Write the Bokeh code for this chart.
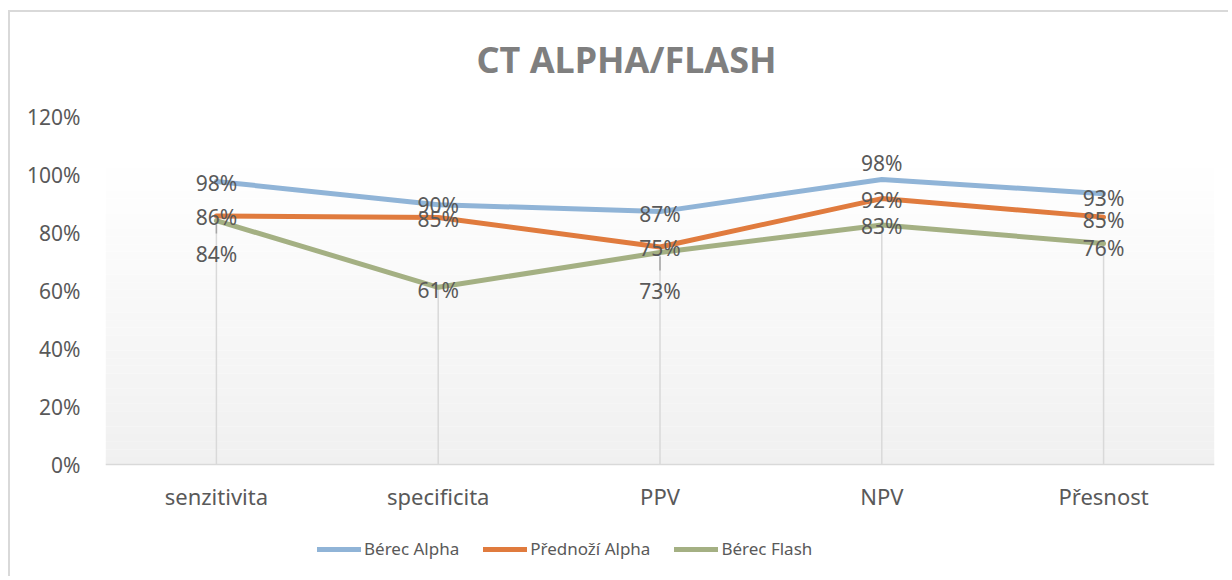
from bokeh.plotting import figure
from bokeh.models import FactorRange, Range1d, FixedTicker, Legend, LegendItem, Label
from bokeh.core.properties import value
from bokeh.embed import file_html
from bokeh.resources import INLINE

# ---- data ----
categories = ["senzitivita", "specificita", "PPV", "NPV", "Přesnost"]
series_names = ["Bérec Alpha", "Přednoží Alpha", "Bérec Flash"]
berec_alpha = [0.976, 0.896, 0.872, 0.983, 0.934]
prednozi_alpha = [0.857, 0.852, 0.750, 0.917, 0.853]
berec_flash = [0.841, 0.611, 0.731, 0.826, 0.762]
y_ticks = [0, 0.2, 0.4, 0.6, 0.8, 1.0, 1.2]
y_tick_labels = ["0%", "20%", "40%", "60%", "80%", "100%", "120%"]
title_text = "CT ALPHA/FLASH"

# ---- styles / layout ----
colors = ["#90B4D7", "#E07B3E", "#A4B083"]
label_dy = [[2, 0, 2, -16, 4], [1, 2, 1, 1, 3], [33, 3, 38, 1, 4]]  # px offsets of data labels
FONT = "Noto Sans"
TXT = "#595959"
PX_PER_UNIT = 290.0          # pixels per 100 %
CANVAS_TOP, CANVAS_H = 12, 566
ZERO_Y = 464                 # page y of the 0 % line
y_end = (ZERO_Y - CANVAS_TOP) / PX_PER_UNIT
y_start = -(CANVAS_TOP + CANVAS_H - ZERO_Y) / PX_PER_UNIT

series = [berec_alpha, prednozi_alpha, berec_flash]

p = figure(
    width=1220, height=CANVAS_H, title=None,
    x_range=FactorRange(*categories, range_padding=0),
    y_range=Range1d(y_start, y_end),
    output_backend="svg", toolbar_location=None,
    min_border_left=95, min_border_right=16, min_border_top=0, min_border_bottom=0,
)
p.styles = {"border-left": "2px solid #d9d9d9", "border-top": "2px solid #d9d9d9",
            "margin-top": "10px", "margin-left": "8px"}
p.outline_line_color = None
p.background_fill_color = "white"
p.border_fill_color = "white"
p.xgrid.grid_line_color = None
p.ygrid.grid_line_color = None

# gradient plot-area background (white at top to light gray at bottom)
n_bands = 40
g_top = 1.048
for i in range(n_bands):
    b = g_top * i / n_bands
    t = g_top * (i + 1) / n_bands
    frac = (i + 0.5) / n_bands
    c = int(round(240 + (255 - 240) * frac))
    p.quad(left=0, right=len(categories), bottom=b, top=t,
           fill_color=f"#{c:02x}{c:02x}{c:02x}", line_color=None)

# drop lines
mins = [min(v) for v in zip(*series)]
p.segment(x0=categories, y0=[0] * len(categories), x1=categories, y1=mins,
          line_color="#D9D9D9", line_width=1.5)

renderers = []
for vals, col in zip(series, colors):
    r = p.line(categories, vals, line_color=col, line_width=5, line_join="round", line_cap="round")
    renderers.append(r)

# leader lines for displaced labels
for vals, dys in zip(series, label_dy):
    for c, v, dy in zip(categories, vals, dys):
        if dy > 20:
            p.segment(x0=[c], y0=[v - 4 / PX_PER_UNIT], x1=[c], y1=[v - (dy - 20) / PX_PER_UNIT],
                      line_color="#A6A6A6", line_width=1.5)

# data labels
for vals, dys in zip(series, label_dy):
    p.text(x=categories, y=vals, text=[f"{round(v * 100)}%" for v in vals], y_offset=dys,
           text_align="center", text_baseline="middle", text_font=value(FONT),
           text_font_size="21px", text_color=TXT)

# axes
xa = p.xaxis[0]
xa.fixed_location = 0
xa.axis_line_color = "#D9D9D9"
xa.axis_line_width = 1.5
xa.major_tick_line_color = None
xa.minor_tick_line_color = None
xa.major_label_standoff = 10
xa.major_label_text_font = FONT
xa.major_label_text_font_size = "22px"
xa.major_label_text_color = TXT

ya = p.yaxis[0]
ya.axis_line_color = None
ya.major_tick_line_color = None
ya.minor_tick_line_color = None
ya.major_tick_out = 0
ya.major_tick_in = 0
ya.ticker = FixedTicker(ticks=y_ticks)
ya.major_label_overrides = {t: l for t, l in zip(y_ticks, y_tick_labels)}
ya.major_label_standoff = 25
ya.major_label_text_font = FONT
ya.major_label_text_font_size = "21px"
ya.major_label_text_color = TXT

# title
p.add_layout(Label(x=2.349, y=(ZERO_Y - 59) / PX_PER_UNIT, text=title_text, text_align="center",
                   text_baseline="middle", text_font=FONT, text_font_style="bold",
                   text_font_size="36px", text_color="#7F7F7F"))

# legend
legend = Legend(
    items=[LegendItem(label=n, renderers=[r]) for n, r in zip(series_names, renderers)],
    orientation="horizontal", location=(212, 18), spacing=24, label_standoff=3,
    glyph_width=44, glyph_height=20, padding=0, margin=0,
    border_line_color=None, background_fill_alpha=0,
    label_text_font=FONT, label_text_font_size="17px", label_text_color=TXT,
)
p.add_layout(legend, "center")

open("out.html", "w").write(file_html(p, INLINE))
